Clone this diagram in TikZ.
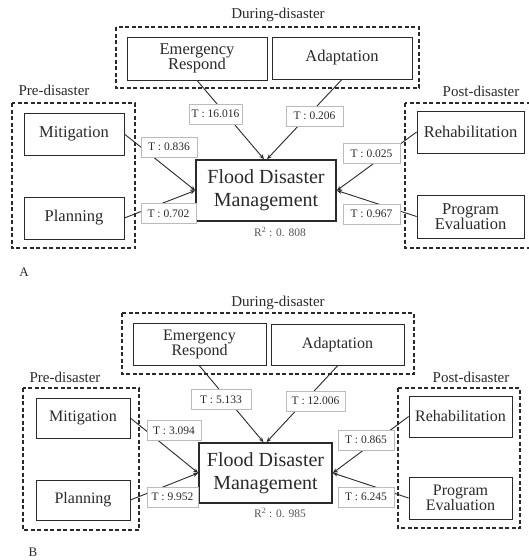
\documentclass[tikz,border=0pt]{standalone}
\usepackage{fontspec}
\setmainfont{Liberation Serif}
\usetikzlibrary{arrows.meta,calc}
\definecolor{ink}{HTML}{2A2A2A}
\definecolor{lab}{HTML}{BBBBBB}
\begin{document}
\begin{tikzpicture}[x=1pt,y=-1pt,
  subbox/.style={draw=ink,line width=0.8pt,text=ink,align=center,inner sep=0pt,
     font=\fontsize{16.5}{15.5}\selectfont},
  subboxb/.style={subbox,font=\fontsize{16}{15}\selectfont},
  mainbox/.style={draw=ink,line width=1.6pt,text=ink,align=center,inner sep=0pt,
     font=\fontsize{20}{23}\selectfont},
  grpbox/.style={draw=ink,line width=1.2pt,dash pattern=on 4pt off 2.5pt},
  grplab/.style={text=ink,font=\fontsize{15}{15}\selectfont,inner sep=0pt},
  tlab/.style={draw=lab,line width=0.8pt,fill=white,text=ink,inner sep=0pt,
     minimum height=20pt,font=\fontsize{11.5}{12}\selectfont},
  rlab/.style={text=ink!80,inner sep=0pt,font=\fontsize{11.5}{12}\selectfont},
  conn/.style={draw=ink,line width=0.9pt,-{Stealth[length=5pt,width=4pt]}},
  panlab/.style={text=ink,inner sep=0pt,font=\fontsize{13}{13}\selectfont}]
\useasboundingbox (0,0) rectangle (528,560);
\fill[white] (0,0) rectangle (528,560);

% ================= Panel A =================
\draw[grpbox] (116,27) rectangle (419,88);
\node[grplab] (durAlab) at (278,15) {During-disaster};
\draw[grpbox] (12,103) rectangle (135,248);
\node[grplab] (preAlab) at (54,90) {Pre-disaster};
\draw[grpbox] (405,103) rectangle (534,248);
\node[grplab] (postAlab) at (481,91) {Post-disaster};

\node[subbox,minimum width=140pt,minimum height=43pt] (emerA) at (197,58.5) {Emergency\\Respond};
\node[subbox,minimum width=140pt,minimum height=42pt] (adapA) at (342,58) {Adaptation};
\node[subbox,minimum width=100pt,minimum height=42pt] (mitA) at (74,134) {Mitigation};
\node[subbox,minimum width=100pt,minimum height=42pt] (planA) at (74,218) {Planning};
\node[subbox,minimum width=107pt,minimum height=42pt] (rehA) at (470.5,132) {Rehabilitation};
\node[subbox,minimum width=107pt,minimum height=43pt] (progA) at (470.5,216.5) {Program\\Evaluation};
\node[mainbox,minimum width=140pt,minimum height=61pt] (fdmA) at (266,190.5) {Flood Disaster\\Management};
\node[rlab] (rA) at (280,232) {R\textsuperscript{2} : 0. 808};

\draw[conn] (emerA.south) -- ($(fdmA.north)+(-2,0)$);
\draw[conn] (adapA.south) -- ($(fdmA.north)+(1,0)$);
\draw[conn] (mitA.east) -- (fdmA.west);
\draw[conn] (planA.east) -- (fdmA.west);
\draw[conn] (rehA.west) -- (fdmA.east);
\draw[conn] (progA.west) -- (fdmA.east);

\node[tlab,minimum width=53pt] (tA1) at (215.5,114) {T : 16.016};
\node[tlab,minimum width=56pt] (tA2) at (169,147) {T : 0.836};
\node[tlab,minimum width=55pt] (tA3) at (168.5,213.5) {T : 0.702};
\node[tlab,minimum width=57pt] (tA4) at (314.5,116) {T : 0.206};
\node[tlab,minimum width=57pt] (tA5) at (371.5,153.5) {T : 0.025};
\node[tlab,minimum width=57pt] (tA6) at (371.5,214) {T : 0.967};

\node[panlab] (pA) at (24,272) {A};

% ================= Panel B =================
\draw[grpbox] (122,313) rectangle (414,374);
\node[grplab] (durBlab) at (278,303) {During-disaster};
\draw[grpbox] (23,388) rectangle (139,530);
\node[grplab] (preBlab) at (65,377) {Pre-disaster};
\draw[grpbox] (398,388) rectangle (520,528);
\node[grplab] (postBlab) at (471,377) {Post-disaster};

\node[subboxb,minimum width=133pt,minimum height=42pt] (emerB) at (199.5,344.5) {Emergency\\Respond};
\node[subboxb,minimum width=133pt,minimum height=41pt] (adapB) at (337.5,345) {Adaptation};
\node[subboxb,minimum width=94pt,minimum height=40pt] (mitB) at (83,418) {Mitigation};
\node[subboxb,minimum width=94pt,minimum height=40pt] (planB) at (83,500) {Planning};
\node[subboxb,minimum width=103pt,minimum height=41pt] (rehB) at (460.5,416.5) {Rehabilitation};
\node[subboxb,minimum width=103pt,minimum height=42pt] (progB) at (460.5,498) {Program\\Evaluation};
\node[mainbox,minimum width=133pt,minimum height=60pt] (fdmB) at (265.5,473) {Flood Disaster\\Management};
\node[rlab] (rB) at (280,513) {R\textsuperscript{2} : 0. 985};

\draw[conn] (emerB.south) -- ($(fdmB.north)+(-2,0)$);
\draw[conn] (adapB.south) -- ($(fdmB.north)+(1,0)$);
\draw[conn] (mitB.east) -- (fdmB.west);
\draw[conn] (planB.east) -- (fdmB.west);
\draw[conn] (rehB.west) -- (fdmB.east);
\draw[conn] (progB.west) -- (fdmB.east);

\node[tlab,minimum width=60pt] (tB1) at (221,399.5) {T : 5.133};
\node[tlab,minimum width=54pt] (tB2) at (174,430.5) {T : 3.094};
\node[tlab,minimum width=51pt] (tB3) at (172.5,497) {T : 9.952};
\node[tlab,minimum width=59pt] (tB4) at (315.5,401) {T : 12.006};
\node[tlab,minimum width=56pt] (tB5) at (366,440) {T : 0.865};
\node[tlab,minimum width=56pt] (tB6) at (366,497) {T : 6.245};

\node[panlab] (pB) at (33,552) {B};
\end{tikzpicture}
\end{document}
